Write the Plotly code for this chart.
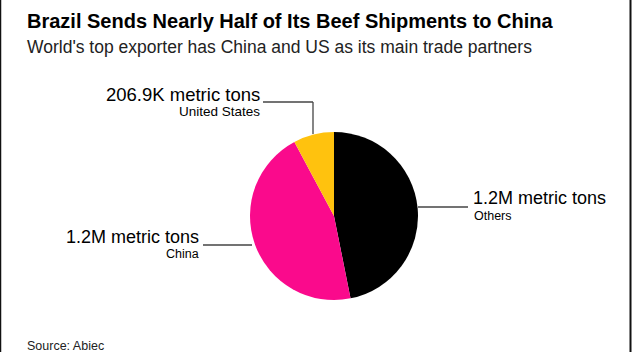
import plotly.graph_objects as go

W, H = 632, 352

# Data
categories = ["Others", "China", "United States"]
values = [1240000, 1200000, 206900]
value_labels = ["1.2M metric tons", "1.2M metric tons", "206.9K metric tons"]
colors = ["#000000", "#FA0A8C", "#FFC20E"]

def px(x):
    return x / W

def py(y):
    return 1 - y / H

fig = go.Figure(go.Pie(
    labels=categories,
    values=values,
    sort=False,
    direction="clockwise",
    rotation=0,
    textinfo="none",
    marker=dict(colors=colors, line=dict(width=0)),
    domain=dict(x=[px(250), px(418)], y=[py(300), py(132)]),
    showlegend=False,
))

FONT = "Liberation Sans, Arial, sans-serif"
ann = []

def text(x, y, s, size, anchor="left", color="#000000", bold=False):
    ann.append(dict(
        x=px(x), y=py(y), xref="paper", yref="paper", text=("<b>%s</b>" % s) if bold else s,
        showarrow=False, xanchor=anchor, yanchor="middle",
        font=dict(family=FONT, size=size, color=color),
    ))

text(25, 21, "Brazil Sends Nearly Half of Its Beef Shipments to China", 20, bold=True)
text(25, 47, "World's top exporter has China and US as its main trade partners", 17.5, color="#222222")
text(25, 346, "Source: Abiec", 12.5, color="#222222")

# Others label
text(471, 198, value_labels[0], 18)
text(472, 216, categories[0], 12.5)
# China label
text(201, 237, value_labels[1], 18, anchor="right")
text(201, 254, categories[1], 12.5, anchor="right")
# US label
text(262, 94, value_labels[2], 18.5, anchor="right")
text(262, 112, categories[2], 13.5, anchor="right")

LINE = dict(color="#444444", width=1.3)
shapes = [
    dict(type="line", xref="paper", yref="paper", x0=px(263), y0=py(102), x1=px(313), y1=py(102), line=LINE),
    dict(type="line", xref="paper", yref="paper", x0=px(313), y0=py(102), x1=px(313), y1=py(134), line=LINE),
    dict(type="line", xref="paper", yref="paper", x0=px(418), y0=py(207), x1=px(468), y1=py(207), line=LINE),
    dict(type="line", xref="paper", yref="paper", x0=px(203), y0=py(245), x1=px(252), y1=py(245), line=LINE),
    # frame edges
    dict(type="line", xref="paper", yref="paper", x0=px(0.5), y0=0, x1=px(0.5), y1=1, line=dict(color="#111111", width=1.5)),
    dict(type="line", xref="paper", yref="paper", x0=px(630.5), y0=0, x1=px(630.5), y1=1, line=dict(color="#111111", width=2)),
]

fig.update_layout(
    width=W, height=H,
    margin=dict(l=0, r=0, t=0, b=0),
    paper_bgcolor="#ffffff",
    plot_bgcolor="#ffffff",
    annotations=ann,
    shapes=shapes,
)

fig.write_html("out.html")
